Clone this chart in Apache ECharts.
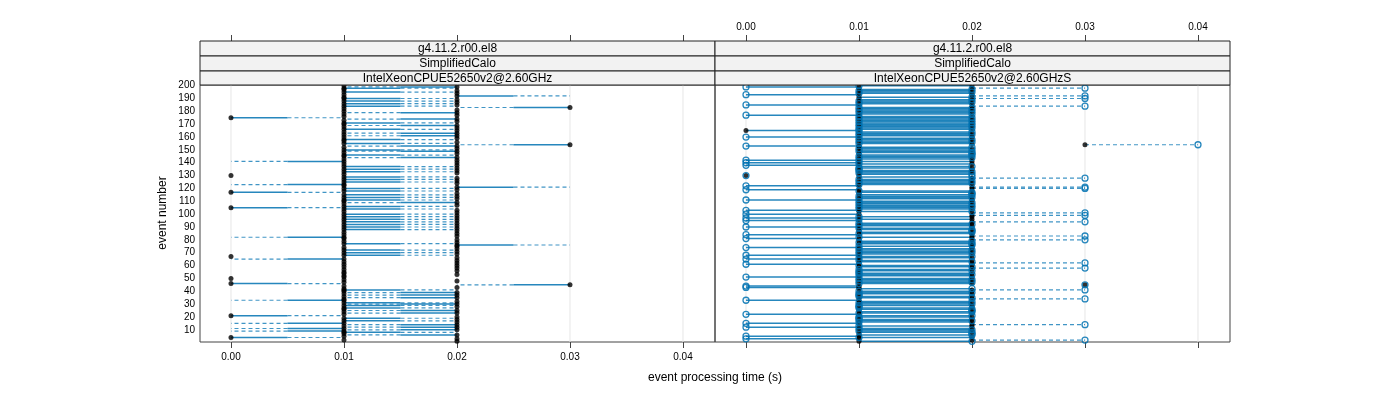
<!DOCTYPE html>
<html><head><meta charset="utf-8">
<script src="https://cdn.jsdelivr.net/npm/echarts@6/dist/echarts.min.js"></script>
<style>html,body{margin:0;padding:0;background:#fff}#c{width:1400px;height:400px}</style>
</head><body><div id="c"></div>
<script>
// ---------- data ----------
const stripVersion = ['g4.11.2.r00.el8', 'g4.11.2.r00.el8'];
const stripTest = ['SimplifiedCalo', 'SimplifiedCalo'];
const stripCpu = ['IntelXeonCPUE52650v2@2.60GHz', 'IntelXeonCPUE52650v2@2.60GHzS'];
const xTicks = [0.00, 0.01, 0.02, 0.03, 0.04];
const xTickLabels = ['0.00', '0.01', '0.02', '0.03', '0.04'];
const yTicks = [10,20,30,40,50,60,70,80,90,100,110,120,130,140,150,160,170,180,190,200];
const xTitle = 'event processing time (s)';
const yTitle = 'event number';

// event processing time per event (event 1 first), left panel: black dots
const leftDots = [
0.02,0.01,0.02,0.00,0.01,0.02,0.01,0.01,0.01,0.02,
0.01,0.02,0.01,0.02,0.01,0.02,0.01,0.02,0.01,0.02,
0.00,0.01,0.02,0.01,0.02,0.01,0.01,0.02,0.01,0.02,
0.01,0.02,0.01,0.01,0.02,0.01,0.02,0.01,0.02,0.01,
0.01,0.01,0.02,0.01,0.03,0.00,0.01,0.02,0.01,0.00,
0.01,0.01,0.02,0.01,0.01,0.02,0.01,0.02,0.01,0.02,
0.01,0.02,0.01,0.02,0.01,0.02,0.00,0.01,0.02,0.01,
0.02,0.01,0.02,0.01,0.02,0.02,0.01,0.02,0.01,0.02,
0.01,0.01,0.02,0.01,0.02,0.01,0.02,0.01,0.02,0.01,
0.02,0.01,0.02,0.01,0.02,0.01,0.02,0.01,0.02,0.01,
0.02,0.01,0.02,0.01,0.00,0.01,0.02,0.01,0.02,0.01,
0.01,0.02,0.01,0.02,0.01,0.02,0.00,0.01,0.02,0.01,
0.02,0.01,0.01,0.02,0.01,0.02,0.01,0.02,0.01,0.00,
0.01,0.02,0.01,0.02,0.01,0.02,0.01,0.02,0.01,0.02,
0.01,0.02,0.01,0.02,0.01,0.01,0.02,0.01,0.02,0.01,
0.02,0.01,0.02,0.03,0.01,0.02,0.01,0.01,0.02,0.01,
0.02,0.01,0.02,0.01,0.02,0.01,0.02,0.01,0.02,0.01,
0.01,0.02,0.01,0.02,0.00,0.01,0.02,0.01,0.02,0.01,
0.02,0.01,0.03,0.01,0.02,0.01,0.02,0.01,0.02,0.01,
0.01,0.02,0.01,0.02,0.01,0.02,0.01,0.01,0.02,0.01];

// left panel: time of the same event in the compared run (segment end)
const leftTargets = [
0.02,0.01,0.02,0.01,0.01,0.01,0.01,0.02,0.00,0.01,
0.00,0.01,0.01,0.01,0.00,0.02,0.02,0.02,0.02,0.02,
0.01,0.01,0.01,0.01,0.01,0.01,0.02,0.02,0.02,0.01,
0.02,0.02,0.00,0.01,0.01,0.01,0.01,0.01,0.01,0.01,
0.02,0.01,0.02,0.01,0.02,0.01,0.01,0.02,0.01,0.00,
0.01,0.01,0.02,0.01,0.01,0.02,0.01,0.02,0.01,0.02,
0.01,0.02,0.01,0.02,0.00,0.02,0.00,0.02,0.02,0.02,
0.02,0.02,0.02,0.01,0.02,0.03,0.02,0.02,0.01,0.02,
0.01,0.00,0.02,0.01,0.02,0.01,0.02,0.02,0.02,0.02,
0.02,0.02,0.02,0.02,0.02,0.02,0.02,0.02,0.02,0.02,
0.02,0.01,0.02,0.02,0.01,0.02,0.02,0.01,0.01,0.01,
0.02,0.02,0.02,0.02,0.02,0.02,0.01,0.02,0.02,0.02,
0.03,0.01,0.00,0.02,0.02,0.02,0.02,0.02,0.02,0.00,
0.01,0.02,0.02,0.02,0.02,0.02,0.02,0.02,0.01,0.02,
0.00,0.02,0.01,0.01,0.01,0.02,0.02,0.01,0.01,0.02,
0.02,0.01,0.01,0.02,0.02,0.02,0.01,0.02,0.02,0.01,
0.01,0.01,0.01,0.01,0.02,0.02,0.02,0.01,0.01,0.01,
0.02,0.02,0.01,0.01,0.01,0.01,0.02,0.01,0.01,0.01,
0.02,0.01,0.02,0.02,0.02,0.02,0.02,0.02,0.02,0.02,
0.01,0.03,0.01,0.02,0.02,0.02,0.01,0.02,0.01,0.01];

// right panel: black dots
const rightDots = [
0.01,0.02,0.01,0.02,0.01,0.01,0.02,0.01,0.02,0.01,
0.02,0.01,0.02,0.02,0.01,0.02,0.01,0.02,0.01,0.02,
0.01,0.01,0.02,0.01,0.02,0.01,0.02,0.01,0.02,0.01,
0.02,0.01,0.01,0.02,0.01,0.02,0.01,0.02,0.01,0.02,
0.02,0.01,0.01,0.01,0.03,0.02,0.01,0.02,0.01,0.02,
0.01,0.02,0.01,0.02,0.01,0.01,0.02,0.02,0.01,0.02,
0.01,0.02,0.01,0.02,0.01,0.02,0.01,0.01,0.02,0.01,
0.02,0.01,0.02,0.01,0.02,0.02,0.01,0.02,0.01,0.02,
0.01,0.02,0.02,0.01,0.02,0.01,0.02,0.01,0.02,0.01,
0.02,0.01,0.02,0.02,0.01,0.02,0.01,0.02,0.02,0.01,
0.02,0.01,0.01,0.02,0.01,0.02,0.01,0.02,0.01,0.02,
0.01,0.02,0.01,0.02,0.01,0.02,0.01,0.02,0.01,0.02,
0.02,0.01,0.02,0.01,0.02,0.01,0.02,0.02,0.01,0.00,
0.01,0.02,0.01,0.02,0.01,0.02,0.01,0.01,0.02,0.01,
0.02,0.01,0.02,0.01,0.02,0.01,0.02,0.01,0.02,0.01,
0.02,0.01,0.01,0.03,0.02,0.01,0.02,0.01,0.02,0.01,
0.02,0.01,0.02,0.01,0.00,0.02,0.01,0.02,0.01,0.02,
0.01,0.02,0.01,0.02,0.01,0.02,0.01,0.01,0.02,0.01,
0.02,0.01,0.02,0.02,0.01,0.02,0.01,0.02,0.01,0.02,
0.01,0.02,0.01,0.02,0.01,0.02,0.01,0.02,0.01,0.02];

// right panel: open blue circles
const rightCircles = [
0.02,0.03,0.00,0.01,0.00,0.02,0.02,0.02,0.01,0.02,
0.01,0.00,0.01,0.03,0.00,0.01,0.02,0.01,0.01,0.01,
0.02,0.00,0.01,0.02,0.02,0.02,0.01,0.01,0.01,0.02,
0.01,0.02,0.00,0.03,0.02,0.01,0.01,0.01,0.02,0.01,
0.03,0.02,0.00,0.00,0.03,0.01,0.02,0.01,0.02,0.01,
0.00,0.01,0.02,0.01,0.01,0.02,0.01,0.03,0.02,0.01,
0.00,0.03,0.02,0.01,0.00,0.01,0.02,0.00,0.01,0.02,
0.01,0.02,0.01,0.00,0.01,0.02,0.02,0.01,0.02,0.03,
0.00,0.01,0.03,0.00,0.01,0.02,0.02,0.02,0.01,0.00,
0.01,0.02,0.01,0.03,0.00,0.01,0.00,0.01,0.03,0.00,
0.03,0.02,0.00,0.01,0.02,0.01,0.02,0.01,0.02,0.01,
0.00,0.01,0.02,0.01,0.02,0.02,0.02,0.01,0.00,0.03,
0.03,0.00,0.01,0.02,0.01,0.02,0.01,0.03,0.02,0.00,
0.02,0.01,0.02,0.01,0.01,0.01,0.02,0.00,0.01,0.00,
0.01,0.00,0.01,0.02,0.01,0.02,0.02,0.02,0.01,0.02,
0.01,0.02,0.00,0.04,0.01,0.02,0.01,0.02,0.01,0.00,
0.01,0.02,0.01,0.02,0.01,0.01,0.02,0.01,0.02,0.01,
0.02,0.01,0.02,0.01,0.02,0.01,0.00,0.02,0.01,0.02,
0.01,0.02,0.01,0.03,0.00,0.01,0.02,0.01,0.02,0.03,
0.02,0.03,0.00,0.01,0.02,0.01,0.02,0.03,0.00,0.01];

// ---------- layout / style ----------
const FONT = 'Liberation Sans';
const BLUE = '#0072B2';
const X_MIN = -0.002743, X_MAX = 0.042832, Y_MIN = 0.5, Y_MAX = 200.5;
const PW = 515, PTOP = 85, PH = 257;
const panelLeft = [200, 715];
const stripTop = [41, 56, 71], stripH = [15, 15, 14];

const chart = echarts.init(document.getElementById('c'), null, {renderer: 'canvas'});

function xAxisDef(grid, pos, showLabel) {
  return {
    type: 'value', gridIndex: grid, position: pos, min: X_MIN, max: X_MAX,
    offset: pos === 'top' ? 44 : 0,
    axisLine: {show: false},
    splitLine: {show: false},
    axisTick: {show: true, customValues: xTicks, length: 6, inside: false, lineStyle: {color: '#444', width: 1}},
    axisLabel: {show: showLabel, customValues: xTicks, margin: pos === 'top' ? 9 : 10,
      color: '#000', fontSize: 10, fontFamily: FONT,
      formatter: v => { const k = xTicks.findIndex(t => Math.abs(t - v) < 1e-9); return k >= 0 ? xTickLabels[k] : ''; }}
  };
}
function yAxisDef(grid, showLabel) {
  return {
    type: 'value', gridIndex: grid, min: Y_MIN, max: Y_MAX,
    axisLine: {show: false}, splitLine: {show: false},
    axisTick: {show: false},
    axisLabel: {show: showLabel, customValues: yTicks, margin: 5, color: '#000', fontSize: 10, fontFamily: FONT}
  };
}

function gridLineSeries(xi, yi) {
  return {
    type: 'custom', xAxisIndex: xi, yAxisIndex: yi, z: 1, silent: true,
    data: xTicks.map(v => [v]),
    encode: {x: 0},
    renderItem: (params, api) => {
      const a = api.coord([api.value(0), Y_MIN]);
      const b = api.coord([api.value(0), Y_MAX]);
      return {type: 'line', shape: {x1: a[0], y1: a[1], x2: b[0], y2: b[1]},
        style: {stroke: '#e6e6e6', lineWidth: 1}};
    }
  };
}

// segments: [from, to, event]
const leftSegData = [];
leftDots.forEach((v, i) => { if (v !== leftTargets[i]) leftSegData.push([v, leftTargets[i], i + 1]); });
const rightSegData = [];
rightDots.forEach((v, i) => { if (v !== rightCircles[i]) rightSegData.push([v, rightCircles[i], i + 1]); });

function halfSegRender(params, api) {
  const p0 = api.coord([api.value(0), api.value(2)]);
  const p1 = api.coord([api.value(1), api.value(2)]);
  const m = [(p0[0] + p1[0]) / 2, p0[1]];
  return {type: 'group', children: [
    {type: 'line', shape: {x1: p0[0], y1: p0[1], x2: m[0], y2: m[1]},
      style: {stroke: BLUE, lineWidth: 1.5, opacity: 0.85}},
    {type: 'line', shape: {x1: m[0], y1: m[1], x2: p1[0], y2: p1[1]},
      style: {stroke: BLUE, lineWidth: 1.2, opacity: 0.75, lineDash: [4, 3]}}
  ]};
}
function fullSegRender(params, api) {
  const a = api.value(0), b = api.value(1);
  const p0 = api.coord([a, api.value(2)]);
  const p1 = api.coord([b, api.value(2)]);
  const dashed = Math.max(a, b) > 0.0201;
  return {type: 'line', shape: {x1: p0[0], y1: p0[1], x2: p1[0], y2: p1[1]},
    style: dashed ? {stroke: BLUE, lineWidth: 1.2, opacity: 0.75, lineDash: [4, 3]}
                  : {stroke: BLUE, lineWidth: 1.5, opacity: 0.85}};
}

const graphics = [];
panelLeft.forEach((px, p) => {
  const labels = [stripVersion[p], stripTest[p], stripCpu[p]];
  for (let r = 0; r < 3; r++) {
    graphics.push({type: 'rect', shape: {x: px, y: stripTop[r], width: PW, height: stripH[r]},
      style: {fill: '#f2f2f2', stroke: '#222', lineWidth: 1}, z: 10});
    graphics.push({type: 'text', x: px + PW / 2, y: stripTop[r] + stripH[r] / 2 + 0.5, z: 11,
      style: {text: labels[r], fill: '#000', font: '12px ' + FONT, textAlign: 'center', textVerticalAlign: 'middle'}});
  }
});
graphics.push({type: 'text', x: 163, y: 213, rotation: Math.PI / 2, z: 11,
  style: {text: yTitle, fill: '#000', font: '12px ' + FONT, textAlign: 'center', textVerticalAlign: 'middle'}});
graphics.push({type: 'text', x: 715, y: 378, z: 11,
  style: {text: xTitle, fill: '#000', font: '12px ' + FONT, textAlign: 'center', textVerticalAlign: 'middle'}});

chart.setOption({
  animation: false,
  backgroundColor: '#fff',
  grid: panelLeft.map(px => ({left: px, top: PTOP, width: PW, height: PH, show: true,
    borderColor: '#444', borderWidth: 1, backgroundColor: 'transparent', containLabel: false})),
  xAxis: [xAxisDef(0, 'bottom', true), xAxisDef(0, 'top', false), xAxisDef(1, 'bottom', false), xAxisDef(1, 'top', true)],
  yAxis: [yAxisDef(0, true), yAxisDef(1, false)],
  graphic: graphics,
  series: [
    gridLineSeries(0, 0),
    gridLineSeries(2, 1),
    {type: 'custom', xAxisIndex: 0, yAxisIndex: 0, z: 2, silent: true, data: leftSegData,
      encode: {x: [0, 1], y: 2}, renderItem: halfSegRender},
    {type: 'scatter', xAxisIndex: 0, yAxisIndex: 0, z: 4, silent: true, symbol: 'circle', symbolSize: 5,
      data: leftDots.map((v, i) => [v, i + 1]), itemStyle: {color: '#000'}},
    {type: 'custom', xAxisIndex: 2, yAxisIndex: 1, z: 2, silent: true, data: rightSegData,
      encode: {x: [0, 1], y: 2}, renderItem: fullSegRender},
    {type: 'scatter', xAxisIndex: 2, yAxisIndex: 1, z: 4, silent: true, symbol: 'circle', symbolSize: 5,
      data: rightDots.map((v, i) => [v, i + 1]), itemStyle: {color: '#000'}},
    {type: 'scatter', xAxisIndex: 2, yAxisIndex: 1, z: 5, silent: true, symbol: 'circle', symbolSize: 6,
      data: rightCircles.map((v, i) => [v, i + 1]),
      itemStyle: {color: 'rgba(255,255,255,0)', borderColor: BLUE, borderWidth: 1.3, opacity: 0.85}}
  ]
});
</script></body></html>
